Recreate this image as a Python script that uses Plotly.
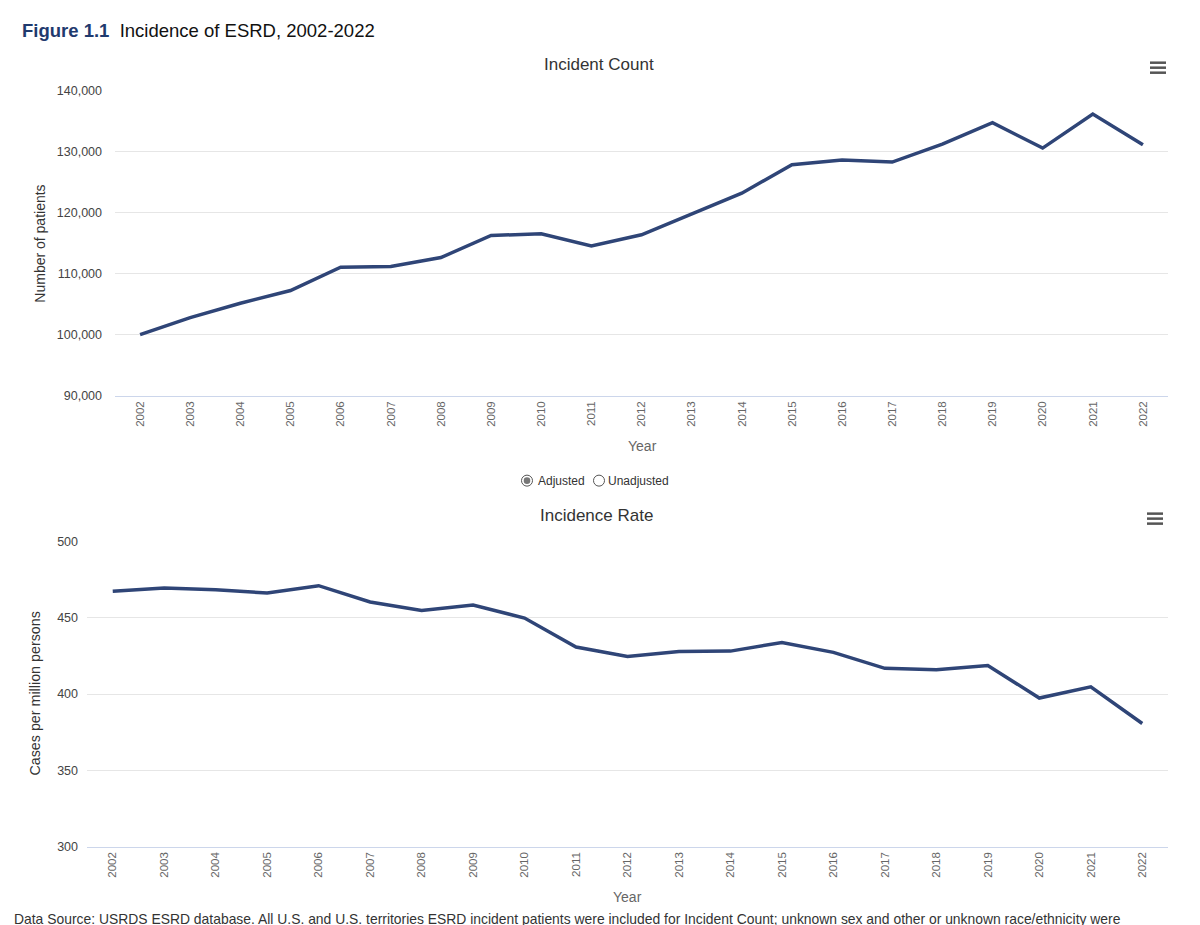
import plotly.graph_objects as go

years = list(range(2002, 2023))
incident_count = [100000, 102800, 105150, 107230, 111060, 111170, 112650, 116260, 116530, 114560,
                  116370, 119820, 123200, 127860, 128620, 128290, 131250, 134750, 130590, 136170, 131140]
incidence_rate = [467.4, 469.6, 468.5, 466.3, 471.1, 460.4, 454.9, 458.4, 449.9, 430.9,
                  424.7, 428.0, 428.2, 433.9, 427.4, 416.9, 416.0, 418.8, 397.4, 404.8, 380.7]
year_labels = [str(y) for y in years]

# calibration between screen pixels of the reference and figure pixels
XOFF = 8
YOFF, YSC = 14.3, 0.985
W, H = 1184, 925
ML = 87 - XOFF
MR = W - (1168 - XOFF)
PW = W - ML - MR

def px(x):
    """reference-screen x -> paper fraction"""
    return (x - XOFF - ML) / PW

def py(y):
    """reference-screen y -> paper fraction"""
    return 1 - ((y - YOFF) / YSC) / H

LINE = "#2f4577"
GRID = "#e6e6e6"
AXIS = "#ccd6eb"
FONT = "Liberation Sans, Arial, sans-serif"

fig = go.Figure()
fig.add_trace(go.Scatter(x=years, y=incident_count, mode="lines",
                         line=dict(color=LINE, width=3.5), xaxis="x", yaxis="y",
                         showlegend=False))
fig.add_trace(go.Scatter(x=years, y=incidence_rate, mode="lines",
                         line=dict(color=LINE, width=3.5), xaxis="x2", yaxis="y2",
                         showlegend=False))

xcommon = dict(range=[2001.5, 2022.5], tickmode="array", tickvals=years, ticktext=year_labels,
               tickangle=-90, tickfont=dict(size=11.5, color="#666666", family=FONT),
               showgrid=False, showline=True, linecolor=AXIS, linewidth=1, zeroline=False,
               ticks="", fixedrange=True)
ycommon = dict(showgrid=True, gridcolor=GRID, gridwidth=1, zeroline=False, showline=False,
               tickfont=dict(size=12.5, color="#444444", family=FONT), ticks="",
               fixedrange=True)

fig.update_layout(
    width=W, height=H,
    margin=dict(l=ML, r=MR, t=0, b=0),
    paper_bgcolor="white", plot_bgcolor="white",
    font=dict(family=FONT),
    xaxis=dict(domain=[px(115), 1], anchor="y", **xcommon),
    yaxis=dict(domain=[py(395), py(90)], anchor="x", range=[90000, 140000], dtick=10000,
               tickformat=",", ticklabelstandoff=12, **ycommon),
    xaxis2=dict(domain=[0, 1], anchor="y2", **xcommon),
    yaxis2=dict(domain=[py(846), py(541)], anchor="x2", range=[300, 500], dtick=50,
                ticklabelstandoff=8, **ycommon),
)

ann = []
ann.append(dict(x=px(20), y=py(30), xref="paper", yref="paper", xanchor="left", yanchor="middle",
                text="<b><span style='color:#1f3a6e'>Figure 1.1</span></b>  Incidence of ESRD, 2002-2022",
                showarrow=False, font=dict(size=18.5, color="#111111", family=FONT)))
ann.append(dict(x=px(599), y=py(64), xref="paper", yref="paper", xanchor="center", yanchor="middle",
                text="Incident Count", showarrow=False, font=dict(size=17, color="#333333", family=FONT)))
ann.append(dict(x=px(596), y=py(515), xref="paper", yref="paper", xanchor="center", yanchor="middle",
                text="Incidence Rate", showarrow=False, font=dict(size=17, color="#333333", family=FONT)))
ann.append(dict(x=px(642), y=py(445), xref="paper", yref="paper", xanchor="center", yanchor="middle",
                text="Year", showarrow=False, font=dict(size=14, color="#666666", family=FONT)))
ann.append(dict(x=px(627), y=py(896), xref="paper", yref="paper", xanchor="center", yanchor="middle",
                text="Year", showarrow=False, font=dict(size=14, color="#666666", family=FONT)))
ann.append(dict(x=px(40), y=py(243), xref="paper", yref="paper", xanchor="center", yanchor="middle",
                text="Number of patients", textangle=-90, showarrow=False,
                font=dict(size=14, color="#333333", family=FONT)))
ann.append(dict(x=px(35), y=py(693), xref="paper", yref="paper", xanchor="center", yanchor="middle",
                text="Cases per million persons", textangle=-90, showarrow=False,
                font=dict(size=14.3, color="#333333", family=FONT)))
ann.append(dict(x=px(536), y=py(480), xref="paper", yref="paper", xanchor="left", yanchor="middle",
                text="Adjusted", showarrow=False, font=dict(size=12, color="#333333", family=FONT)))
ann.append(dict(x=px(606), y=py(480), xref="paper", yref="paper", xanchor="left", yanchor="middle",
                text="Unadjusted", showarrow=False, font=dict(size=12, color="#333333", family=FONT)))
ann.append(dict(x=px(12), y=py(918), xref="paper", yref="paper", xanchor="left", yanchor="middle",
                text="Data Source: USRDS ESRD database. All U.S. and U.S. territories ESRD incident patients were included for Incident Count; unknown sex and other or unknown race/ethnicity were",
                showarrow=False, font=dict(size=13.9, color="#333333", family=FONT)))
fig.update_layout(annotations=ann)

shapes = []
for (cx, cy) in [(1158, 67), (1155, 518)]:
    for dy in (-5, 0, 5):
        shapes.append(dict(type="line", xref="paper", yref="paper",
                           x0=px(cx - 8), x1=px(cx + 8), y0=py(cy + dy), y1=py(cy + dy),
                           line=dict(color="#555555", width=2.5)))
# radio buttons
r = 5.5
for cx, filled in [(527, True), (599, False)]:
    shapes.append(dict(type="circle", xref="paper", yref="paper",
                       x0=px(cx - r), x1=px(cx + r), y0=py(480 + r), y1=py(480 - r),
                       line=dict(color="#555555", width=1), fillcolor="white"))
    if filled:
        r2 = 3.3
        shapes.append(dict(type="circle", xref="paper", yref="paper",
                           x0=px(cx - r2), x1=px(cx + r2), y0=py(480 + r2), y1=py(480 - r2),
                           line=dict(width=0), fillcolor="#777777"))
fig.update_layout(shapes=shapes)

fig.write_html("out.html")
